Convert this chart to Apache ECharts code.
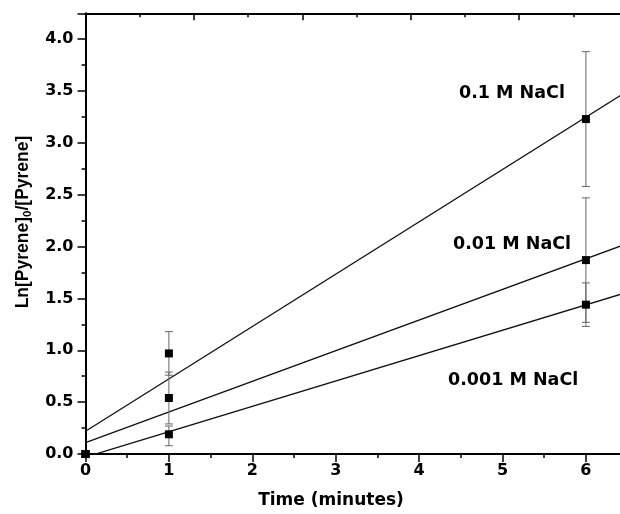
<!DOCTYPE html>
<html lang="en">
<head>
<meta charset="UTF-8">
<title>Ln[Pyrene]0/[Pyrene] vs time</title>
<script src="https://cdn.jsdelivr.net/npm/echarts@6/dist/echarts.min.js"></script>
<style>
  html, body { margin: 0; padding: 0; background: #fff; }
  #chart { width: 620px; height: 514px; }
</style>
</head>
<body>
<div id="chart"></div>
<script>
  // measured points (time in minutes)
  var times = [0, 1, 6];
  var y01   = [0, 0.97, 3.23];   // 0.1 M NaCl
  var y001  = [0, 0.54, 1.87];   // 0.01 M NaCl
  var y0001 = [0, 0.19, 1.44];   // 0.001 M NaCl

  // error bar ends
  var lo01   = [null, 0.76, 2.58], hi01   = [null, 1.18, 3.88];
  var lo001  = [null, 0.29, 1.27], hi001  = [null, 0.79, 2.47];
  var lo0001 = [null, 0.08, 1.23], hi0001 = [null, 0.27, 1.65];

  // fitted lines, ends
  var fitX     = [0, 6.5];
  var fit01    = [0.22, 3.50];
  var fit001   = [0.11, 2.03];
  var fit0001  = [-0.03, 1.56];

  var xTicks = [0, 1, 2, 3, 4, 5, 6];

  function pairs(xs, ys) {
    var out = [];
    for (var i = 0; i < xs.length; i++) out.push([xs[i], ys[i]]);
    return out;
  }
  function errs(xs, lo, hi) {
    var out = [];
    for (var i = 0; i < xs.length; i++) {
      if (lo[i] == null) continue;
      out.push([xs[i], lo[i], hi[i]]);
    }
    return out;
  }

  var errData = errs(times, lo01, hi01)
    .concat(errs(times, lo001, hi001))
    .concat(errs(times, lo0001, hi0001));

  function renderErr(params, api) {
    var top = api.coord([api.value(0), api.value(2)]);
    var bot = api.coord([api.value(0), api.value(1)]);
    var w = 4;
    var st = { stroke: '#666', lineWidth: 1 };
    return {
      type: 'group',
      children: [
        { type: 'line', shape: { x1: top[0], y1: top[1], x2: bot[0], y2: bot[1] }, style: st },
        { type: 'line', shape: { x1: top[0] - w, y1: top[1], x2: top[0] + w, y2: top[1] }, style: st },
        { type: 'line', shape: { x1: bot[0] - w, y1: bot[1], x2: bot[0] + w, y2: bot[1] }, style: st }
      ]
    };
  }

  var tickFont = { fontFamily: 'DejaVu Sans', fontWeight: 'bold', fontSize: 16, color: '#000' };

  function fitLine(name, ys) {
    return {
      name: name, type: 'line', data: pairs(fitX, ys), symbol: 'none',
      clip: true, silent: true, z: 2,
      lineStyle: { color: '#111', width: 1.3 }
    };
  }
  function pts(name, ys) {
    return {
      name: name, type: 'scatter', data: pairs(times, ys), symbol: 'rect',
      symbolSize: 8, clip: false, z: 4, itemStyle: { color: '#000', opacity: 1 }
    };
  }

  var option = {
    animation: false,
    backgroundColor: '#fff',
    grid: { left: 85.5, top: 13.3, right: -7.6, bottom: 60, containLabel: false, outerBoundsMode: 'none' },
    xAxis: [{
      type: 'value', position: 'bottom', min: 0, max: 6.5, interval: 1,
      axisLine: { lineStyle: { color: '#000', width: 2 } },
      axisTick: { show: true, inside: false, length: 8, lineStyle: { color: '#000', width: 1.5 } },
      minorTick: { show: true, splitNumber: 2, length: 4, lineStyle: { color: '#000', width: 1.5 } },
      splitLine: { show: false },
      axisLabel: Object.assign({
        margin: 9,
        formatter: function (v) { return xTicks.indexOf(v) >= 0 ? String(v) : ''; }
      }, tickFont)
    }, {
      type: 'value', position: 'top', min: 0, max: 5, interval: 1,
      axisLine: { show: true, lineStyle: { color: '#000', width: 2 } },
      axisTick: { show: true, inside: true, length: 7, lineStyle: { color: '#000', width: 1.5 } },
      minorTick: { show: true, splitNumber: 2, length: 4, lineStyle: { color: '#000', width: 1.5 } },
      splitLine: { show: false },
      axisLabel: { show: false }
    }],
    yAxis: {
      type: 'value', min: 0, max: 4.25, interval: 0.5,
      axisLine: { show: true, lineStyle: { color: '#000', width: 2 } },
      axisTick: { show: true, inside: false, length: 8, lineStyle: { color: '#000', width: 1.5 } },
      minorTick: { show: true, splitNumber: 2, length: 4, lineStyle: { color: '#000', width: 1.5 } },
      splitLine: { show: false },
      axisLabel: Object.assign({
        margin: 12,
        formatter: function (v) { return v > 4.01 ? '' : v.toFixed(1); }
      }, tickFont)
    },
    series: [
      fitLine('fit 0.1 M', fit01),
      fitLine('fit 0.01 M', fit001),
      fitLine('fit 0.001 M', fit0001),
      { name: 'error', type: 'custom', renderItem: renderErr, data: errData, z: 3, clip: false, silent: true },
      pts('0.1 M NaCl', y01),
      pts('0.01 M NaCl', y001),
      pts('0.001 M NaCl', y0001)
    ],
    graphic: [
      { type: 'text', left: 459, top: 84, z: 10,
        style: { text: '0.1 M NaCl', font: 'bold 17.5px "DejaVu Sans"', fill: '#000' } },
      { type: 'text', left: 453, top: 235, z: 10,
        style: { text: '0.01 M NaCl', font: 'bold 17.5px "DejaVu Sans"', fill: '#000' } },
      { type: 'text', left: 448, top: 371, z: 10,
        style: { text: '0.001 M NaCl', font: 'bold 17.5px "DejaVu Sans"', fill: '#000' } },
      { type: 'text', x: 331, y: 501, z: 10,
        style: { text: 'Time (minutes)', font: 'bold 17px "DejaVu Sans"', fill: '#000',
                 align: 'center', verticalAlign: 'middle' } },
      { type: 'text', x: 23, y: 222, rotation: Math.PI / 2, z: 10,
        style: {
          text: '{a|Ln[Pyrene]}{s|0}{a|/[Pyrene]}',
          align: 'center', verticalAlign: 'middle',
          rich: {
            a: { fontFamily: 'Liberation Sans', fontWeight: 'bold', fontSize: 17.5, lineHeight: 21, verticalAlign: 'middle', fill: '#000' },
            s: { fontFamily: 'Liberation Sans', fontWeight: 'bold', fontSize: 11.5, lineHeight: 12, verticalAlign: 'bottom', fill: '#000' }
          }
        } }
    ]
  };

  echarts.init(document.getElementById('chart'), null, { renderer: 'canvas' }).setOption(option);
</script>
</body>
</html>
